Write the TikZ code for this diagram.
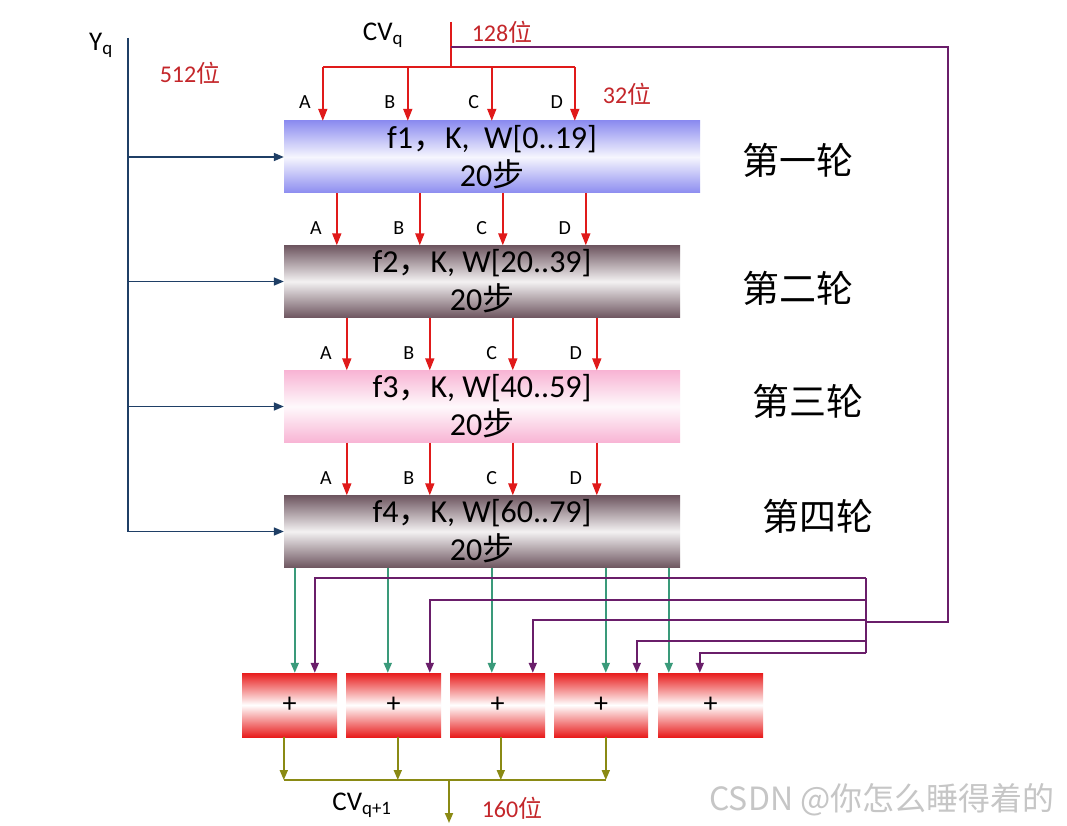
\documentclass[tikz,border=0pt]{standalone}
\usepackage{fontspec}
\setmainfont{Carlito}
\newfontfamily\cjk{Noto Sans CJK SC}
\usepackage{xcolor}
\usepackage{tikz}
\usetikzlibrary{arrows.meta, positioning, calc}

\definecolor{arrred}{HTML}{E01A1A}
\definecolor{labred}{HTML}{C4262A}
\definecolor{fbpurple}{HTML}{6A1E6A}
\definecolor{outgreen}{HTML}{3A9A7A}
\definecolor{sumolive}{HTML}{8A8A14}
\definecolor{ynavy}{HTML}{1F3F66}
\definecolor{rndblue}{HTML}{8C8CF0}
\definecolor{rndbrown}{HTML}{6E5660}
\definecolor{rndpink}{HTML}{F8B4D4}
\definecolor{plusred}{HTML}{E81C1C}

\begin{document}
\begin{tikzpicture}[x=1pt, y=-1pt,
    font=\fontsize{32}{38}\selectfont,
    round/.style={inner sep=0pt, minimum height=72pt, align=center,
                  top color=#1, bottom color=#1, middle color=#1!8!white},
    plus/.style={inner sep=0pt, minimum height=64pt, minimum width=95pt,
                 top color=plusred, bottom color=plusred, middle color=white,
                 font=\fontsize{28}{32}\selectfont},
    rlabel/.style={font=\cjk\fontsize{37}{42}\selectfont},
    abcd/.style={font=\fontsize{20}{24}\selectfont},
    bits/.style={text=labred, font=\fontsize{24}{28}\selectfont},
    cv/.style={font=\fontsize{27}{31}\selectfont},
    redline/.style={arrred, line width=1.8pt},
    redarr/.style={redline, -{Triangle[length=12pt,width=9pt]}},
    yline/.style={ynavy, line width=1.6pt},
    yarr/.style={yline, -{Triangle[length=10pt,width=8pt]}},
    fbline/.style={fbpurple, line width=1.8pt},
    fbarr/.style={fbline, -{Triangle[length=10pt,width=8pt]}},
    outarr/.style={outgreen, line width=1.8pt, -{Triangle[length=10pt,width=8pt]}},
    sumline/.style={sumolive, line width=1.8pt},
    sumarr/.style={sumline, -{Triangle[length=10pt,width=8pt]}},
  ]
  \fill[white] (0,0) rectangle (1067,826);
  \useasboundingbox (0,0) rectangle (1067,826);

  % the four rounds
  \node[round=rndblue, minimum width=416pt] (rnd1) at (492,157)
    {f1{\cjk ，}K,\ \ W[0..19]\\20{\cjk 步}};
  \node[round=rndbrown, minimum width=396pt] (rnd2) at (482,281.5)
    {f2{\cjk ，}K, W[20..39]\\20{\cjk 步}};
  \node[round=rndpink, minimum width=396pt] (rnd3) at (482,406.5)
    {f3{\cjk ，}K, W[40..59]\\20{\cjk 步}};
  \node[round=rndbrown, minimum width=396pt] (rnd4) at (482,531.5)
    {f4{\cjk ，}K, W[60..79]\\20{\cjk 步}};

  \node[rlabel] (lab1) at (798,160) {第一轮};
  \node[rlabel] (lab2) at (798,288) {第二轮};
  \node[rlabel] (lab3) at (808,401) {第三轮};
  \node[rlabel] (lab4) at (818,516) {第四轮};

  % message block Y_q
  \node[cv] (yq) at (101,45) {Y\textsubscript{q}};
  \node[bits] (yqbits) at (190,73) {512{\cjk 位}};
  \coordinate (ytop) at (128,38);
  \draw[yline] (ytop) -- (ytop |- rnd4.west);
  \foreach \i in {1,...,4}
    \draw[yarr] (ytop |- rnd\i.west) -- (rnd\i.west);

  % chaining variable CV_q
  \node[cv] (cvq) at (383,35) {CV\textsubscript{q}};
  \node[bits] (cvbits) at (502,32) {128{\cjk 位}};
  \node[bits] (wordbits) at (627,94) {32{\cjk 位}};
  \coordinate (cvtop) at (451,22);
  \coordinate (fbtap) at (451,47);
  \coordinate (bus) at (451,67);
  \draw[redline] (cvtop) -- (bus);
  \draw[redline] ($(rnd1.north west)+(39,-54)$) -- ($(rnd1.north west)+(291,-54)$);
  \foreach \dx/\l in {39/A,124/B,208/C,291/D}{
    \draw[redarr] ($(rnd1.north west)+(\dx,-54)$) -- ($(rnd1.north west)+(\dx,0)$);
    \node[abcd] at ($(rnd1.north west)+(\dx-18,-19)$) {\l};
  }
  \foreach \dx/\l in {53/A,136/B,219/C,302/D}{
    \draw[redarr] ($(rnd1.south west)+(\dx,0)$) -- ($(rnd2.north west)+(\dx,0)$);
    \node[abcd] at ($(rnd2.north west)+(\dx-21,-17)$) {\l};
  }
  \foreach \dx/\l in {63/A,146/B,229/C,313/D}{
    \draw[redarr] ($(rnd2.south west)+(\dx,0)$) -- ($(rnd3.north west)+(\dx,0)$);
    \node[abcd] at ($(rnd3.north west)+(\dx-21,-17)$) {\l};
    \draw[redarr] ($(rnd3.south west)+(\dx,0)$) -- ($(rnd4.north west)+(\dx,0)$);
    \node[abcd] at ($(rnd4.north west)+(\dx-21,-17)$) {\l};
  }

  % feed-forward of CV_q
  \coordinate (fbcorner) at (948,47);
  \coordinate (fbjoin) at (866,622);
  \coordinate (fbtop) at (866,578);
  \coordinate (fbbot) at (866,653);
  \draw[fbline] (fbtap) -- (fbcorner) |- (fbjoin);
  \draw[fbline] (fbtop) -- (fbbot);

  % adders
  \node[plus] (p1) at (289.5,705) {+};
  \node[plus] (p2) at (393.5,705) {+};
  \node[plus] (p3) at (497.5,705) {+};
  \node[plus, minimum width=94pt] (p4) at (601,705) {+};
  \node[plus, minimum width=105pt] (p5) at (710.5,705) {+};

  \foreach \gx/\p in {53/1,42/2,42/3,52/4,11/5}{
    \path ([xshift=\gx]p\p.north west) coordinate (g\p);
    \draw[outarr] (g\p |- rnd4.south) -- (g\p);
  }
  \foreach \dy/\fx/\p in {0/73/1,22/84/2,42/83/3,63/83/4,75/42/5}
    \draw[fbarr] ($(fbtop)+(0,\dy)$) -| ([xshift=\fx]p\p.north west);

  % output CV_{q+1}
  \coordinate (sumbus) at (449,780);
  \coordinate (cvout) at (449,823);
  \foreach \sx/\p in {42/1,52/2,51/3,52/4}{
    \path ([xshift=\sx]p\p.south west) coordinate (s\p);
    \draw[sumarr] (s\p) -- (s\p |- sumbus);
  }
  \draw[sumline] (s1 |- sumbus) -- (s4 |- sumbus);
  \draw[sumarr] (sumbus) -- (cvout);
  \node[cv] (cvnext) at (362,805) {CV\textsubscript{q+1}};
  \node[bits] (outbits) at (512,808) {160{\cjk 位}};

  \node[text=gray!45, font=\cjk\fontsize{32}{36}\selectfont] (mark) at (882,800)
    {CSDN @你怎么睡得着的};
\end{tikzpicture}
\end{document}
